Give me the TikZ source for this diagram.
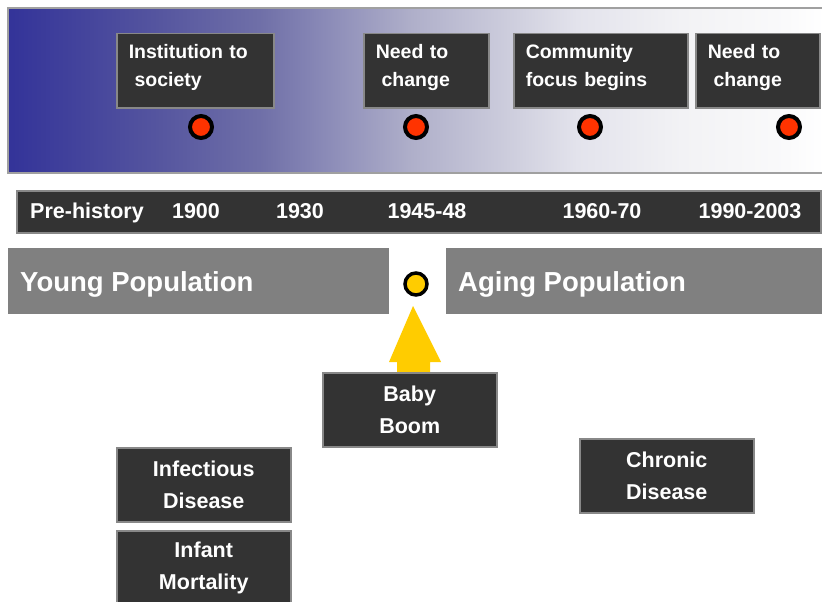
\documentclass[tikz,border=0pt]{standalone}
\usepackage{fontspec}
\setmainfont{Liberation Sans}
\definecolor{boxdark}{HTML}{333333}
\definecolor{boxedge}{HTML}{888888}
\definecolor{popgray}{HTML}{808080}
\definecolor{dotred}{HTML}{FF3300}
\definecolor{dotyellow}{HTML}{FFCC00}
\definecolor{ga}{RGB}{51,51,153}
\definecolor{gb}{RGB}{85,85,159}
\definecolor{gc}{RGB}{112,112,168}
\definecolor{gd}{RGB}{134,134,181}
\definecolor{ge}{RGB}{174,174,201}
\definecolor{gf}{RGB}{210,210,224}
\definecolor{gg}{RGB}{227,227,236}
\definecolor{gh}{RGB}{242,242,245}
\definecolor{gi}{RGB}{250,250,251}
\definecolor{gj}{RGB}{255,255,255}
\begin{document}
\begin{tikzpicture}[x=1pt,y=-1pt,
  darkbox/.style={draw=boxedge, line width=1.5pt, fill=boxdark, text=white, font=\bfseries\fontsize{19.5}{28}\selectfont, inner sep=0pt},
  topbox/.style={darkbox, anchor=north west, minimum height=74pt, align=left, inner xsep=12pt},
  lowbox/.style={darkbox, anchor=north west, minimum width=174pt, minimum height=74pt, align=center, font=\bfseries\fontsize{21.5}{32}\selectfont},
  yearlbl/.style={text=white, font=\bfseries\fontsize{21.5}{24}\selectfont, anchor=base, inner sep=0pt},
  poplbl/.style={text=white, font=\bfseries\fontsize{27.5}{32}\selectfont, anchor=base west, inner sep=0pt},
  reddot/.style={circle, draw=black, line width=4pt, fill=dotred, minimum size=22pt, inner sep=0pt},
  yellowdot/.style={circle, draw=black, line width=3.5pt, fill=dotyellow, minimum size=22pt, inner sep=0pt}
]
\newcommand{\lowstrut}{\rule[-10pt]{0pt}{10pt}}
\useasboundingbox (0,0) rectangle (822,602);
\clip (0,0) rectangle (822,602);
% gradient band (piecewise)
\foreach \xa/\xb/\ca/\cb in {8/157/ga/gb, 157/262/gb/gc, 262/315/gc/gd, 315/409/gd/ge, 409/524/ge/gf, 524/577/gf/gg, 577/682/gg/gh, 682/787/gh/gi, 787/824/gi/gj}{
  \shade[left color=\ca, right color=\cb] (\xa-0.3,8) rectangle (\xb+0.3,173);
}
\draw[boxedge!80!white, line width=1.5pt] (8,8) rectangle (824,173);
% top boxes
\node[topbox, text width=133pt] (inst) at (116,33) {Institution to\\\hspace*{0.3em}society\lowstrut};
\node[topbox, text width=101pt] (need1) at (363,33) {Need to\\\hspace*{0.3em}change\lowstrut};
\node[topbox, text width=150pt] (comm) at (513,33) {Community\\focus begins\lowstrut};
\node[topbox, text width=100pt] (need2) at (695,33) {Need to\\\hspace*{0.3em}change\lowstrut};
% red dots
\node[reddot] (d1) at (201,127) {};
\node[reddot] (d2) at (416,127) {};
\node[reddot] (d3) at (590,127) {};
\node[reddot] (d4) at (789,127) {};
% timeline bar
\node[draw=boxedge, line width=1.5pt, fill=boxdark, anchor=north west, minimum width=804pt, minimum height=42pt, inner sep=0pt] (bar) at (16,190) {};
\node[yearlbl] (y0) at (87,218) {Pre-history};
\node[yearlbl] (y1) at (196,218) {1900};
\node[yearlbl] (y2) at (300,218) {1930};
\node[yearlbl] (y3) at (427,218) {1945-48};
\node[yearlbl] (y4) at (602,218) {1960-70};
\node[yearlbl] (y5) at (750,218) {1990-2003};
% population bands
\node[fill=popgray, anchor=north west, minimum width=381pt, minimum height=66pt, inner sep=0pt] (young) at (8,248) {};
\node[fill=popgray, anchor=north west, minimum width=378pt, minimum height=66pt, inner sep=0pt] (aging) at (446,248) {};
\node[poplbl] (younglbl) at (20,291) {Young Population};
\node[poplbl] (aginglbl) at (458,291) {Aging Population};
\node[yellowdot] (ydot) at (416,284) {};
% arrow
\fill[dotyellow] (413,306) -- (441,362) -- (430,362) -- (430,380) -- (397,380) -- (397,362) -- (389,362) -- cycle;
% lower boxes
\node[lowbox] (baby) at (322,372) {Baby\\Boom};
\node[lowbox] (infect) at (116,447) {Infectious\\Disease};
\node[lowbox] (infant) at (116,530) {Infant\\Mortality};
\node[lowbox] (chronic) at (579,438) {Chronic\\Disease};
\end{tikzpicture}
\end{document}
